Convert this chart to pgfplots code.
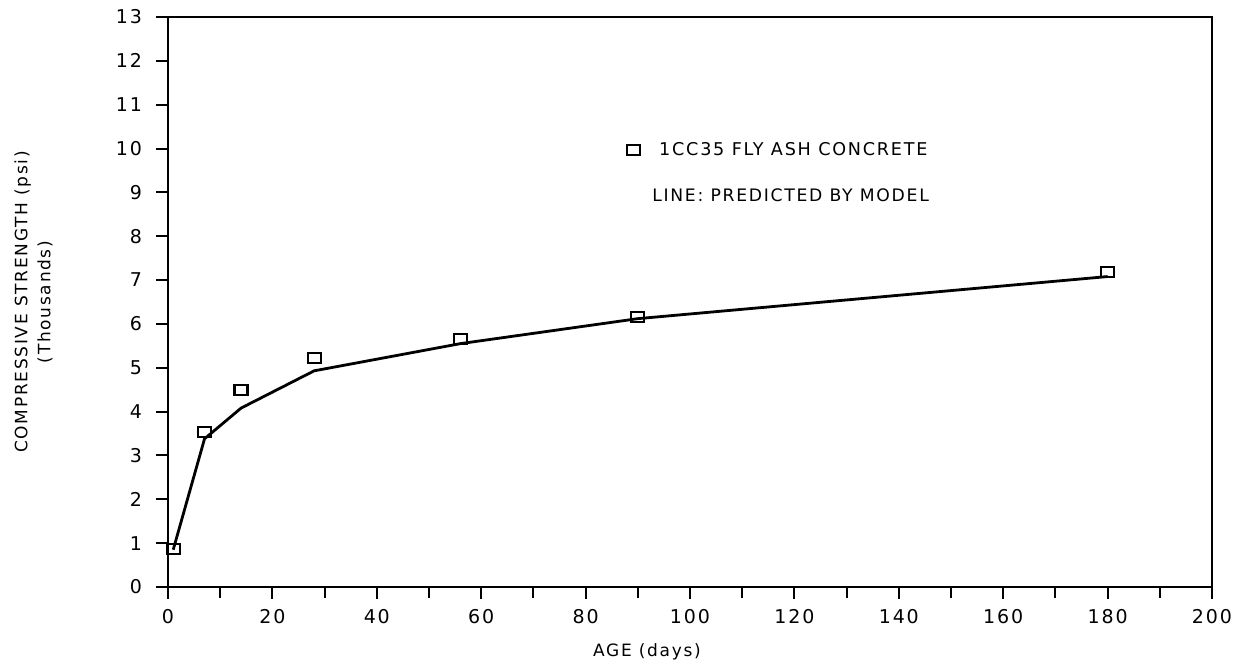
\documentclass[border=0pt]{standalone}
\usepackage{pgfplots}
\pgfplotsset{compat=1.18}
\usepackage{fontspec}
\setmainfont[LetterSpace=10]{DejaVu Sans}
\setsansfont[LetterSpace=10]{DejaVu Sans}
\begin{document}
\fontsize{8.5}{11}\selectfont
\begin{tikzpicture}
\begin{axis}[
  scale only axis, width=522pt, height=285pt,
  xmin=0, xmax=200, ymin=0, ymax=13,
  xtick={0,20,...,200}, minor xtick={10,30,...,190}, ytick={0,1,...,13},
  xtick pos=bottom, ytick pos=left,
  tick align=outside,
  major tick length=6pt, minor tick length=5.5pt,
  tick style={line width=1pt, black},
  axis line style={line width=1pt},
  /pgf/number format/assume math mode=true,
  ticklabel style={font=\fontsize{9.5}{11}\selectfont},
  yticklabel style={xshift=-4pt},
  xticklabel style={yshift=-2pt},
  ylabel={COMPRESSIVE STRENGTH (psi)\\(Thousands)},
  ylabel style={at={(axis description cs:-0.1288,0.5)}, anchor=center, align=center, font=\fontsize{8.5}{11.5}\selectfont},
  xlabel={AGE (days)},
  xlabel style={at={(axis description cs:0.4588,-0.114)}, anchor=center, font=\fontsize{8.5}{11}\selectfont},
  legend style={draw=none, fill=none, at={(axis cs:85.6,9.97)}, anchor=west, font=\fontsize{8.8}{11}\selectfont},
  legend cell align=left,
  legend image code/.code={\path[draw=none] (0pt,0pt) -- (17pt,0pt); \draw[#1] plot coordinates {(6pt,0pt)};},
]
\addplot[black, line width=1.4pt, forget plot] coordinates {
  (1,0.85) (7,3.38) (14,4.08) (28,4.93) (56,5.55) (90,6.12) (180,7.08)
};
\addplot[only marks, mark=square, mark size=3pt, mark options={xscale=1.08, yscale=0.83, line width=1.1pt, fill=white, draw=black}] coordinates {
  (1,0.86) (7,3.54) (14,4.49) (28,5.22) (56,5.65) (90,6.16) (180,7.19)
};
\addlegendentry{1CC35 FLY ASH CONCRETE}
\node[anchor=west, inner sep=0pt, font=\fontsize{8.6}{11}\selectfont] at (axis cs:92.7,8.94) {LINE: PREDICTED BY MODEL};
\end{axis}
\pgfresetboundingbox
\path (current axis.south west) ++(-84pt,-40pt) coordinate (bl);
\path (current axis.north east) ++(12pt,8.5pt) coordinate (tr);
\useasboundingbox (bl) rectangle (tr);
\end{tikzpicture}
\end{document}
